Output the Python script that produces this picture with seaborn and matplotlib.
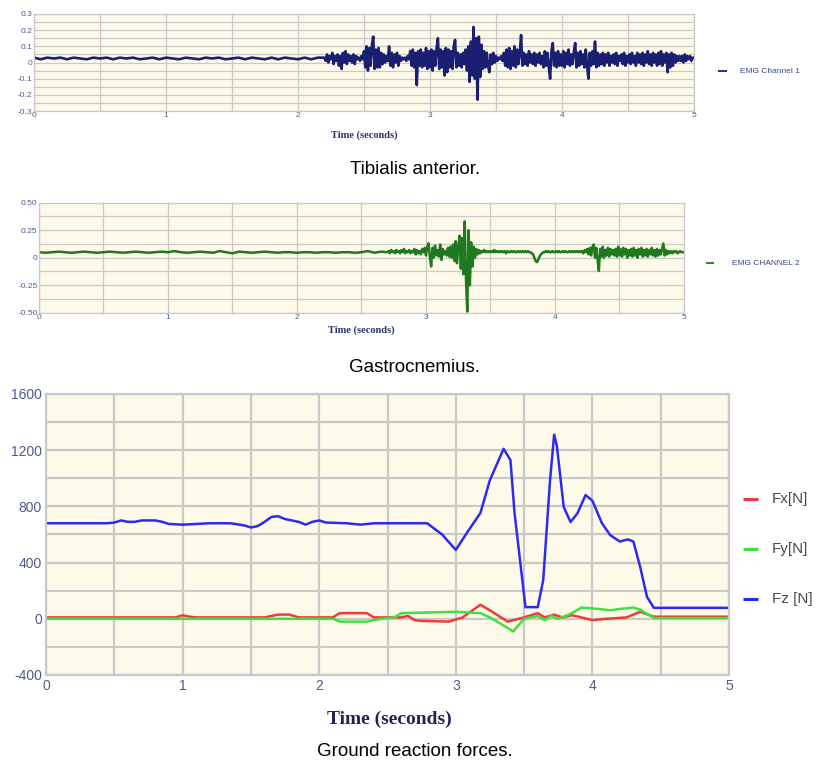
import numpy as np
import pandas as pd
import matplotlib
matplotlib.use("Agg")
import matplotlib.pyplot as plt
from matplotlib.ticker import MultipleLocator
import seaborn as sns

# ---------------- data ----------------
# EMG channel 1 (tibialis anterior): resting part every 0.05 s (0.00-2.15 s),
# active part every 0.01 s (2.20-5.00 s)
emg1_rest = [0.03, 0.02, 0.03, 0.025, 0.03, 0.02, 0.03, 0.025, 0.02, 0.03,
             0.025, 0.03, 0.02, 0.03, 0.025, 0.03, 0.02, 0.025, 0.03, 0.02,
             0.03, 0.025, 0.02, 0.03, 0.025, 0.02, 0.03, 0.025, 0.03, 0.02,
             0.025, 0.03, 0.02, 0.03, 0.025, 0.02, 0.03, 0.02, 0.03, 0.025,
             0.02, 0.03, 0.02, 0.03]
emg1_active = [
    0.03, 0.01, 0.05, 0.00, 0.04, 0.02, 0.06, -0.01, 0.04, 0.01,
    0.05, -0.02, 0.04, -0.04, 0.06, 0.00, 0.07, -0.01, 0.05, 0.01,
    0.04, 0.00, 0.05, -0.01, 0.04, 0.02, 0.03, 0.01, 0.04, 0.02,
    0.07, -0.03, 0.10, -0.05, 0.09, -0.02, 0.11, 0.16, -0.04, 0.08,
    -0.03, 0.09, -0.03, 0.06, -0.01, 0.05, 0.00, 0.04, 0.01, 0.10,
    -0.02, 0.06, -0.03, 0.05, 0.00, 0.06, -0.02, 0.04, 0.01, 0.03,
    0.02, 0.03, 0.01, 0.04, 0.02, 0.07, -0.02, 0.08, -0.03, 0.06,
    -0.14, 0.07, -0.02, 0.08, -0.03, 0.06, -0.02, 0.09, -0.04, 0.07,
    -0.03, 0.08, -0.05, 0.07, -0.02, 0.09, 0.15, -0.04, 0.08, -0.03,
    0.07, -0.08, 0.09, -0.06, 0.08, -0.03, 0.07, -0.04, 0.10, 0.14,
    -0.03, 0.06, -0.02, 0.05, -0.03, 0.06, -0.01, 0.08, -0.05, 0.10,
    -0.12, 0.13, -0.08, 0.22, -0.10, 0.15, -0.23, 0.16, -0.09, 0.11,
    -0.04, 0.07, -0.03, 0.06, -0.02, -0.06, 0.05, -0.01, 0.06, 0.00,
    0.04, 0.01, 0.03, 0.02, 0.04, 0.01, 0.06, -0.02, 0.08, -0.03,
    0.09, -0.04, 0.07, -0.02, 0.10, -0.03, 0.08, -0.01, 0.06, 0.17,
    -0.02, 0.06, -0.01, 0.05, -0.02, 0.07, 0.00, 0.05, -0.01, 0.06,
    -0.02, 0.05, 0.00, 0.06, -0.01, 0.04, -0.03, 0.07, -0.02, 0.06,
    -0.03, -0.10, 0.07, 0.12, -0.02, 0.06, -0.03, 0.07, -0.02, 0.05,
    -0.02, 0.07, -0.03, 0.06, -0.01, 0.08, -0.02, 0.05, -0.01, 0.07,
    0.12, -0.03, 0.06, -0.02, 0.07, -0.01, 0.05, -0.03, 0.08, -0.02,
    -0.10, 0.06, -0.02, 0.07, -0.01, 0.13, -0.03, 0.06, -0.02, 0.05,
    -0.01, 0.06, -0.02, 0.05, 0.00, 0.06, -0.02, 0.04, 0.00, 0.05,
    -0.01, 0.06, -0.02, 0.04, 0.01, 0.05, -0.01, 0.06, -0.02, 0.04,
    0.00, 0.05, -0.01, 0.06, 0.00, 0.04, -0.02, 0.06, 0.00, 0.05,
    -0.01, 0.06, -0.02, 0.05, 0.00, 0.07, -0.01, 0.05, -0.02, 0.06,
    0.00, 0.05, -0.02, 0.06, -0.01, 0.07, -0.02, 0.05, 0.00, 0.06,
    -0.06, 0.05, -0.03, 0.06, -0.02, 0.05, 0.00, 0.04, 0.01, 0.04,
    0.01, 0.04, 0.00, 0.05, 0.01, 0.04, 0.02, 0.04, 0.01, 0.03,
    0.03]

# EMG channel 2 (gastrocnemius): resting part every 0.05 s (0.00-2.65 s),
# active part every 0.01 s (2.70-5.00 s)
emg2_rest = [0.05, 0.045, 0.05, 0.055, 0.05, 0.045, 0.05, 0.055, 0.05, 0.045,
             0.05, 0.055, 0.05, 0.045, 0.05, 0.055, 0.05, 0.045, 0.05, 0.055,
             0.05, 0.06, 0.05, 0.045, 0.05, 0.055, 0.05, 0.045, 0.06, 0.05,
             0.04, 0.055, 0.05, 0.045, 0.05, 0.055, 0.05, 0.045, 0.05, 0.05,
             0.045, 0.05, 0.05, 0.045, 0.05, 0.05, 0.045, 0.05, 0.05, 0.045,
             0.05, 0.06, 0.045, 0.055]
emg2_active = [
    0.05, 0.06, 0.04, 0.07, 0.05, 0.06, 0.04, 0.07, 0.05, 0.06,
    0.04, 0.07, 0.05, 0.08, 0.04, 0.06, 0.05, 0.07, 0.04, 0.06,
    0.05, 0.08, 0.03, 0.07, 0.04, 0.06, 0.03, 0.08, 0.05, 0.09,
    0.02, 0.10, 0.13, 0.01, -0.08, 0.09, 0.00, 0.11, 0.02, 0.07,
    0.01, 0.12, -0.02, 0.08, 0.03, 0.06, 0.02, 0.09, 0.01, 0.10,
    0.00, 0.12, -0.03, 0.15, -0.05, 0.10, 0.20, -0.10, 0.18, -0.15,
    0.33, -0.20, -0.49, 0.25, -0.25, 0.14, -0.08, 0.10, 0.00, 0.08,
    0.03, 0.07, 0.04, 0.06, 0.05, 0.07, 0.05, 0.06, 0.05, 0.06,
    0.05, 0.06, 0.05, 0.07, 0.05, 0.06, 0.05, 0.06, 0.05, 0.06,
    0.05, 0.06, 0.04, 0.06, 0.05, 0.05, 0.06, 0.05, 0.06, 0.05,
    0.05, 0.06, 0.05, 0.06, 0.05, 0.06, 0.05, 0.06, 0.05, 0.06,
    0.05, 0.05, 0.04, 0.03, 0.00, -0.03, -0.04, -0.02, 0.01, 0.03,
    0.04, 0.05, 0.05, 0.06, 0.05, 0.06, 0.05, 0.05, 0.06, 0.05,
    0.05, 0.06, 0.05, 0.06, 0.05, 0.05, 0.06, 0.05, 0.06, 0.05,
    0.05, 0.06, 0.05, 0.06, 0.05, 0.06, 0.05, 0.06, 0.05, 0.06,
    0.05, 0.06, 0.04, 0.07, 0.05, 0.08, 0.03, 0.09, 0.02, 0.10,
    0.12, 0.00, 0.09, -0.02, -0.12, 0.08, 0.01, 0.10, 0.00, 0.07,
    0.02, 0.09, 0.01, 0.08, 0.03, 0.07, 0.02, 0.08, 0.01, 0.10,
    0.02, 0.08, 0.01, 0.09, 0.03, 0.08, 0.00, 0.07, 0.02, 0.08,
    0.01, 0.09, 0.02, 0.07, 0.00, 0.08, 0.03, 0.09, 0.01, 0.07,
    0.02, 0.08, 0.01, 0.07, 0.03, 0.09, 0.02, 0.07, 0.01, 0.08,
    0.02, 0.07, 0.03, 0.08, 0.13, 0.02, 0.07, 0.03, 0.06, 0.04,
    0.06, 0.04, 0.06, 0.05, 0.06, 0.04, 0.05, 0.06, 0.05, 0.05,
    0.05]

# Ground reaction forces [N]
fz_t = [0.0, 0.45, 0.5, 0.55, 0.6, 0.65, 0.7, 0.8, 0.85, 0.9, 1.0, 1.1, 1.2,
        1.35, 1.45, 1.5, 1.55, 1.6, 1.65, 1.7, 1.75, 1.85, 1.9, 1.95, 2.0,
        2.05, 2.2, 2.3, 2.4, 2.5, 2.79, 2.9, 3.0, 3.08, 3.18, 3.25, 3.35,
        3.40, 3.43, 3.51, 3.60, 3.64, 3.69, 3.72, 3.74, 3.79, 3.84, 3.89,
        3.95, 4.0, 4.07, 4.13, 4.20, 4.26, 4.30, 4.35, 4.40, 4.45, 5.0]
fz_v = [680, 680, 685, 700, 690, 690, 700, 700, 690, 675, 670, 675, 680,
        680, 665, 650, 660, 690, 725, 730, 710, 690, 670, 690, 700,
        685, 680, 670, 680, 680, 680, 600, 490, 610, 753, 988, 1210,
        1130, 753, 83, 83, 276, 988, 1310, 1230, 796, 689, 750,
        881, 840, 680, 596, 550, 565, 550, 368, 155, 78, 78]

fx_t = [0.0, 0.95, 1.0, 1.05, 1.1, 1.6, 1.7, 1.78, 1.85, 2.1, 2.15, 2.35,
        2.4, 2.6, 2.65, 2.7, 2.75, 2.95, 3.05, 3.18, 3.25, 3.38, 3.5, 3.6,
        3.65, 3.72, 3.78, 3.85, 3.92, 4.0, 4.1, 4.25, 4.35, 4.45, 5.0]
fx_v = [10, 10, 25, 15, 10, 10, 30, 30, 10, 10, 40, 40, 10, 10, 20, -10,
        -15, -20, 10, 100, 60, -20, 10, 40, 10, 30, 10, 25, 10, -10, 0,
        10, 50, 15, 15]

fy_t = [0.0, 2.1, 2.15, 2.35, 2.45, 2.55, 2.6, 3.0, 3.18, 3.25, 3.32,
        3.42, 3.5, 3.6, 3.65, 3.7, 3.75, 3.85, 3.92, 4.05, 4.13, 4.2, 4.3,
        4.35, 4.45, 5.0]
fy_v = [0, 0, -20, -20, 0, 10, 40, 50, 40, 10, -30, -90, 0, 20, -10, 20,
        0, 40, 80, 70, 60, 70, 80, 65, 5, 5]

# ---------------- styling ----------------
sns.set_theme(style="white")
plt.rcParams["font.family"] = ["Liberation Sans Narrow", "Liberation Sans", "DejaVu Sans"]

W, H = 819, 765
BG = "#FEFAEA"
GRID = "#C9C9C9"
TICK = "#4E5A8C"

fig = plt.figure(figsize=(W / 100, H / 100), dpi=100)


def box(left, top, right, bottom):
    return [left / W, 1 - bottom / H, (right - left) / W, (bottom - top) / H]


def style_axis(ax, ylim, ymajor, yminor, tick_size, grid_lw, fmt, ypad=1, xpad=1):
    ax.set_facecolor(BG)
    ax.set_xlim(0, 5)
    ax.set_ylim(*ylim)
    ax.xaxis.set_major_locator(MultipleLocator(1))
    ax.xaxis.set_minor_locator(MultipleLocator(0.5))
    ax.yaxis.set_major_locator(MultipleLocator(ymajor))
    ax.yaxis.set_minor_locator(MultipleLocator(yminor))
    ax.yaxis.set_major_formatter(plt.FuncFormatter(fmt))
    ax.xaxis.set_major_formatter(plt.FuncFormatter(lambda v, p: f"{v:g}"))
    ax.grid(True, which="both", color=GRID, lw=grid_lw)
    ax.set_axisbelow(True)
    for s in ax.spines.values():
        s.set_color(GRID)
        s.set_linewidth(grid_lw)
    ax.tick_params(axis="both", which="both", length=0, labelsize=tick_size,
                   labelcolor=TICK)
    ax.tick_params(axis="y", pad=ypad)
    ax.tick_params(axis="x", pad=xpad)
    ax.set_xlabel("")
    ax.set_ylabel("")


def emg_frame(rest, rest_step, active, active_start):
    t_rest = np.arange(len(rest)) * rest_step
    t_act = active_start + np.arange(len(active)) * 0.01
    return pd.DataFrame({"t": np.concatenate([t_rest, t_act]),
                         "v": np.concatenate([rest, active])})


# ---- panel 1: tibialis anterior ----
ax1 = fig.add_axes(box(34, 14, 694, 111))
d1 = emg_frame(emg1_rest, 0.05, emg1_active, 2.20)
sns.lineplot(data=d1, x="t", y="v", ax=ax1, color="#1B1F72", lw=1.9,
             estimator=None, sort=False)
style_axis(ax1, (-0.3, 0.3), 0.1, 0.05, 6, 0.9,
           lambda v, p: "0" if abs(v) < 1e-9 else f"{v:.1f}")
ax1.plot([1.036, 1.05], [0.41, 0.41], transform=ax1.transAxes, color="#1B1F72",
         lw=1.3, clip_on=False, solid_capstyle="butt")
ax1.text(1.07, 0.41, "EMG Channel 1", transform=ax1.transAxes, color="#3A4590",
         fontsize=6, va="center", ha="left")

# ---- panel 2: gastrocnemius ----
ax2 = fig.add_axes(box(39, 202.7, 684, 312.7))
d2 = emg_frame(emg2_rest, 0.05, emg2_active, 2.70)
sns.lineplot(data=d2, x="t", y="v", ax=ax2, color="#1F7A1F", lw=1.8,
             estimator=None, sort=False)
style_axis(ax2, (-0.5, 0.5), 0.25, 0.125, 6, 0.9,
           lambda v, p: "0" if abs(v) < 1e-9 else f"{v:.2f}")
ax2.plot([1.034, 1.046], [0.45, 0.45], transform=ax2.transAxes, color="#1F7A1F",
         lw=1.3, clip_on=False, solid_capstyle="butt")
ax2.text(1.075, 0.45, "EMG CHANNEL 2", transform=ax2.transAxes, color="#3A4590",
         fontsize=6, va="center", ha="left")

# ---- panel 3: ground reaction forces ----
ax3 = fig.add_axes(box(46, 394, 729, 675))
forces = pd.concat([
    pd.DataFrame({"t": fx_t, "F": fx_v, "comp": "Fx[N]"}),
    pd.DataFrame({"t": fy_t, "F": fy_v, "comp": "Fy[N]"}),
    pd.DataFrame({"t": fz_t, "F": fz_v, "comp": "Fz [N]"}),
], ignore_index=True)
palette = {"Fx[N]": "#F03A3A", "Fy[N]": "#3FE03F", "Fz [N]": "#2B2BF0"}
sns.lineplot(data=forces, x="t", y="F", hue="comp", palette=palette, ax=ax3,
             lw=1.8, estimator=None, sort=False, legend=False)
style_axis(ax3, (-400, 1600), 400, 200, 10, 1.6, lambda v, p: f"{v:.0f}",
           ypad=3, xpad=3)
for lab, yf in zip(["Fx[N]", "Fy[N]", "Fz [N]"], [0.625, 0.447, 0.270]):
    ax3.plot([1.021, 1.043], [yf, yf], transform=ax3.transAxes, color=palette[lab],
             lw=2.2, clip_on=False, solid_capstyle="butt")
    ax3.text(1.063, yf, lab, transform=ax3.transAxes, color="#4A4A4A",
             fontsize=11, va="center", ha="left")

# ---- axis titles and captions ----
serif = ["Liberation Serif", "DejaVu Serif"]
fig.text(364 / W, 1 - 135 / H, "Time (seconds)", ha="center", va="center",
         fontsize=7.5, fontweight="bold", family=serif, color="#2A3468")
fig.text(361 / W, 1 - 330 / H, "Time (seconds)", ha="center", va="center",
         fontsize=7.5, fontweight="bold", family=serif, color="#2A3468")
fig.text(389 / W, 1 - 719 / H, "Time (seconds)", ha="center", va="center",
         fontsize=14, fontweight="bold", family=serif, color="#1E2550")

cap = ["Liberation Sans Narrow", "Liberation Sans", "DejaVu Sans"]
fig.text(415 / W, 1 - 170 / H, "Tibialis anterior.", ha="center", va="center",
         fontsize=13.5, family=cap, color="black")
fig.text(415 / W, 1 - 367 / H, "Gastrocnemius.", ha="center", va="center",
         fontsize=13.5, family=cap, color="black")
fig.text(415 / W, 1 - 752 / H, "Ground reaction forces.", ha="center",
         va="center", fontsize=13.5, family=cap, color="black")

fig.savefig("out.png", dpi=100, facecolor="white")
